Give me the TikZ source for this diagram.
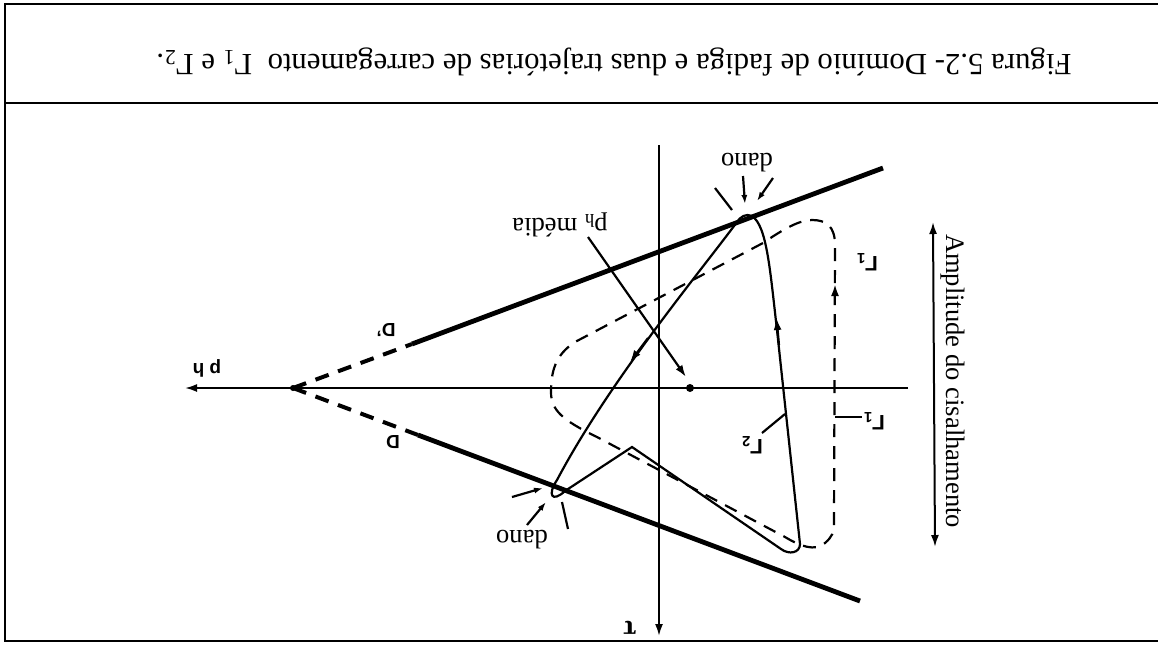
\documentclass[tikz,border=0pt]{standalone}
\usepackage{fontspec}
\setmainfont{Liberation Serif}
\setsansfont{Liberation Sans}
\usetikzlibrary{arrows.meta}
\begin{document}
\begin{tikzpicture}[x=0.5pt,y=-0.5pt,
  frameline/.style={line width=1pt},
  axisline/.style={line width=1pt},
  bound/.style={line width=2.4pt},
  bounddash/.style={line width=2pt, dash pattern=on 7pt off 5pt},
  traj/.style={line width=1.1pt},
  trajdash/.style={line width=1.1pt, dash pattern=on 6.5pt off 4.5pt},
  lbl/.style={rotate=180, font=\fontsize{13.3}{15}\selectfont, inner sep=0pt},
  glbl/.style={rotate=180, font=\sffamily\bfseries\fontsize{10.5}{12}\selectfont, inner sep=0pt},
  slbl/.style={rotate=180, font=\sffamily\bfseries\fontsize{9.5}{11}\selectfont, inner sep=0pt},
  arr/.style={-{Latex[length=6pt,width=4pt]}},
  sarr/.style={-{Latex[length=4.5pt,width=3pt]}},
  darr/.style={{Latex[length=6pt,width=4pt]}-{Latex[length=6pt,width=4pt]}}
]
\useasboundingbox (0,0) rectangle (1158,645);
% frame
\draw[frameline] (1158,4) -- (5,4) -- (5,641) -- (1158,641);
\draw[frameline] (5,103) -- (1158,103);
\node[lbl, font=\fontsize{15.4}{18}\selectfont] (cap) at (614,62)
  {Figura 5.2- Domínio de fadiga e duas trajetórias de carregamento \ Γ\textsubscript{1} e Γ\textsubscript{2}.};

% axes
\coordinate (hR) at (908,388);
\coordinate (hL) at (185,388);
\coordinate (vT) at (659,145);
\coordinate (vB) at (659,636);
\draw[axisline, arr] (hR) -- (hL);
\draw[axisline, arr] (vT) -- (vB);
\node[slbl] (ph) at (207,368) {p h};
\node[rotate=180, font=\bfseries\fontsize{14}{16}\selectfont, inner sep=0pt] (tau) at (630,628) {τ};

% boundary lines
\coordinate (O) at (293,388);
\coordinate (Uc) at (412,344);
\coordinate (Ue) at (883,168);
\coordinate (Lc) at (418,435);
\coordinate (Le) at (860,601);
\draw[bounddash] (O) -- (Uc);
\draw[bound] (Uc) -- (Ue);
\draw[bounddash] (O) -- (Lc);
\draw[bound] (Lc) -- (Le);
\fill (O) circle (3);
\node[slbl] (Dp) at (386,330) {D'};
\node[slbl] (D) at (393,442) {D};

% trajectory Gamma 2 (solid)
\draw[traj] (632,447) -- (781,549) .. controls (789,555) and (800,553) .. (800,544)
  -- (777,330) .. controls (770,270) and (767,226) .. (752,216)
  .. controls (746,213) and (740,217) .. (737,222)
  .. controls (700,272) and (610,380) .. (557,480)
  .. controls (547,495) and (552,503) .. (565,491) -- cycle;
\draw[traj, arr] (779,345) -- (776.5,318);
\draw[traj, arr] (648,338) -- (630,362);

% trajectory Gamma 1 (dashed)
\draw[trajdash] (834,525) -- (835,245) .. controls (835,226) and (826,220) .. (812,220)
  .. controls (800,220) and (785,228) .. (763,243) -- (575,342)
  .. controls (555,355) and (551,372) .. (551,392)
  .. controls (551,410) and (562,420) .. (597,437) -- (785,537)
  .. controls (800,546) and (815,552) .. (825,543)
  .. controls (832,537) and (834,532) .. (834,525);
\draw[traj, arr] (835,305) -- (835,284);

% labels of trajectories
\node[glbl] (G2) at (752,445) {Γ\textsubscript{2}};
\coordinate (G2p) at (785,414);
\draw[traj] (762,433) -- (G2p);
\node[glbl] (G1a) at (874,421) {Γ\textsubscript{1}};
\coordinate (G1p) at (835,417);
\draw[traj] (G1p) -- (862,417);
\node[glbl] (G1b) at (867,262) {Γ\textsubscript{1}};

% p_h media
\node[lbl] (pm) at (560,225) {p\textsubscript{h} média};
\coordinate (dot) at (690,388);
\fill (dot) circle (4);
\draw[traj, arr] (588,237) -- (686,377);

% damage top
\node[lbl] (dtop) at (747,163) {dano};
\draw[traj] (715,188) -- (732,210);
\draw[traj, sarr] (743,176) -- (745,204);
\draw[traj, sarr] (773,178) -- (757,201);
% damage bottom
\node[lbl] (dbot) at (522,540) {dano};
\draw[traj, sarr] (512,497) -- (543,488);
\draw[traj, sarr] (527,525) -- (546,502);
\draw[traj] (568,529) -- (562,502);

% amplitude
\coordinate (aT) at (933,222);
\coordinate (aB) at (935,547);
\draw[axisline, darr] (aT) -- (aB);
\node[rotate=-90, font=\fontsize{13.3}{15}\selectfont, inner sep=0pt] (amp) at (953,381) {Amplitude do cisalhamento};
\end{tikzpicture}
\end{document}
